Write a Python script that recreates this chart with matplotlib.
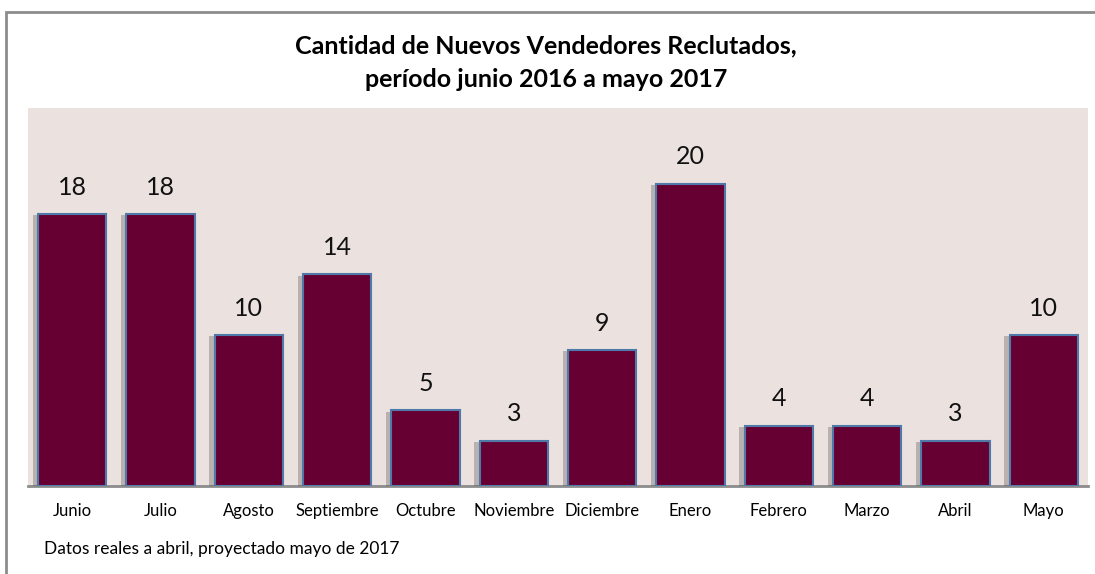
import matplotlib
matplotlib.use("Agg")
from matplotlib import pyplot as plt
from matplotlib import patheffects
from matplotlib.patches import Rectangle

months = ["Junio", "Julio", "Agosto", "Septiembre", "Octubre", "Noviembre",
          "Diciembre", "Enero", "Febrero", "Marzo", "Abril", "Mayo"]
recruits = [18, 18, 10, 14, 5, 3, 9, 20, 4, 4, 3, 10]

title = "Cantidad de Nuevos Vendedores Reclutados,\nperíodo junio 2016 a mayo 2017"
note = "Datos reales a abril, proyectado mayo de 2017"

plt.rcParams['font.family'] = ['Lato', 'DejaVu Sans']

fig = plt.figure(figsize=(10.95, 5.74), dpi=100)

# outer frame (cropped at right and bottom in the reference)
frame = Rectangle((6 / 1095, -0.1), 1.2, 1 - 12 / 574 + 0.1, transform=fig.transFigure,
                  fill=False, edgecolor="#8c8c8c", linewidth=2, zorder=0)
fig.patches.append(frame)

ax = fig.add_axes([28 / 1095, 88 / 574, 1060 / 1095, 378 / 574])
ax.set_facecolor("#ebe1df")

x = range(len(months))
bars = ax.bar(x, recruits, width=0.77, color="#660033", edgecolor="#4f79a8",
              linewidth=1.5, zorder=3)
for b in bars:
    b.set_path_effects([patheffects.SimplePatchShadow(offset=(-4, -1), alpha=0.3, shadow_rgbFace="#444444"),
                        patheffects.Normal()])

for xi, v in zip(x, recruits):
    ax.annotate(str(v), (xi, v), xytext=(0, 11), textcoords="offset points",
                ha="center", va="bottom", fontsize=18, color="#111111")

ax.set_xlim(-0.5, len(months) - 0.5)
ax.set_ylim(0, 25)
ax.set_xticks(list(x))
ax.set_xticklabels(months, fontsize=12)
ax.tick_params(axis="x", length=0, pad=12)
ax.set_yticks([])
for s in ["top", "right", "left"]:
    ax.spines[s].set_visible(False)
ax.spines["bottom"].set_color("#8c8c8c")
ax.spines["bottom"].set_linewidth(2)

fig.text(546 / 1095, 1 - 63 / 574, title, ha="center", va="center",
         fontsize=18, fontweight="bold", linespacing=1.55)
fig.text(44 / 1095, 1 - 549 / 574, note, ha="left", va="center", fontsize=12.5)

fig.savefig("out.png", dpi=100)
